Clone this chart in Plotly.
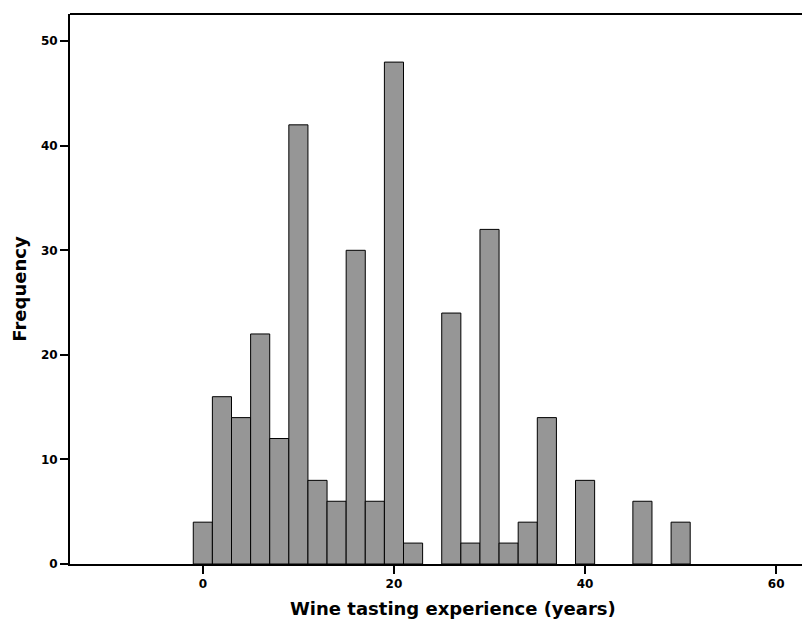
import plotly.graph_objects as go

bin_centers = [0, 2, 4, 6, 8, 10, 12, 14, 16, 18, 20, 22, 24, 26, 28, 30, 32, 34, 36, 38, 40, 42, 44, 46, 48, 50]
frequencies = [4, 16, 14, 22, 12, 42, 8, 6, 30, 6, 48, 2, 0, 24, 2, 32, 2, 4, 14, 0, 8, 0, 0, 6, 0, 4]
x_ticks = [0, 20, 40, 60]
y_ticks = [0, 10, 20, 30, 40, 50]

fig = go.Figure()
fig.add_trace(go.Bar(
    x=bin_centers, y=[v if v > 0 else None for v in frequencies], width=2,
    marker=dict(color="#969696", line=dict(color="black", width=1)),
))

font_family = "DejaVu Sans, Liberation Sans, Arial, sans-serif"
fig.update_layout(
    width=802, height=623,
    margin=dict(l=70, r=0, t=14, b=59),
    paper_bgcolor="white", plot_bgcolor="white",
    showlegend=False,
    font=dict(family=font_family, color="black"),
    xaxis=dict(
        range=[-13.9, 62.7], tickvals=x_ticks, ticks="outside", ticklen=8, tickwidth=2,
        tickcolor="black", showline=True, linecolor="black", linewidth=2,
        showgrid=False, zeroline=False,
        tickfont=dict(size=12, family=font_family, weight="bold"),
    ),
    yaxis=dict(
        range=[0, 52.6], tickvals=y_ticks, ticks="outside", ticklen=8, tickwidth=2,
        tickcolor="black", showline=True, linecolor="black", linewidth=2,
        showgrid=False, zeroline=False,
        tickfont=dict(size=12, family=font_family, weight="bold"),
        title=dict(text="<b>Frequency</b>", font=dict(size=18), standoff=10),
    ),
    shapes=[dict(type="line", xref="paper", yref="paper", x0=0, x1=1, y0=1, y1=1,
                 line=dict(color="black", width=2))],
    annotations=[dict(text="<b>Wine tasting experience (years)</b>", xref="paper", yref="paper",
                      x=(453 - 70) / 732, y=0, xanchor="center", yanchor="middle", yshift=-44,
                      showarrow=False, font=dict(size=18, family=font_family))],
)

fig.write_html("out.html", post_script="document.body.style.margin='0';",
               config={"displayModeBar": False})
